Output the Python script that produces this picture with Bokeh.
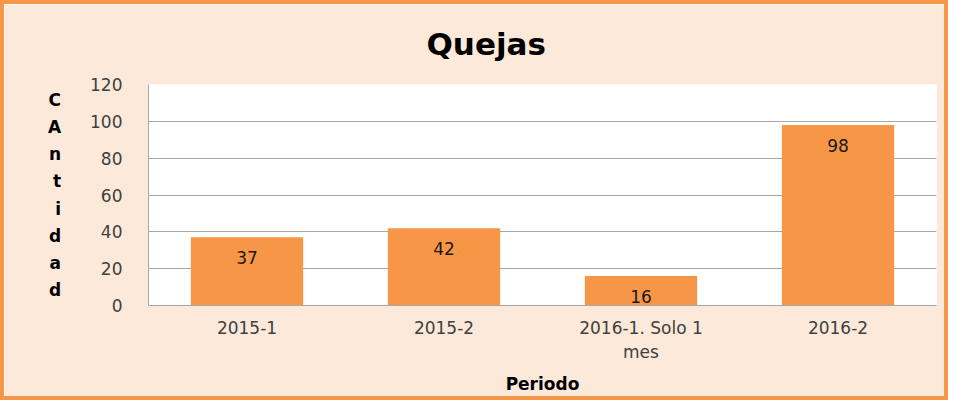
from bokeh.plotting import figure
from bokeh.models import ColumnDataSource, LabelSet, FactorRange
from bokeh.core.properties import value
from bokeh.embed import file_html
from bokeh.resources import INLINE

# ---- data ----
categories = ["2015-1", "2015-2", "2016-1. Solo 1\nmes", "2016-2"]
quejas = [37, 42, 16, 98]
y_ticks = [0, 20, 40, 60, 80, 100, 120]
title_text = "Quejas"
y_label = "CAntidad"
x_label = "Periodo"

FONT = "DejaVu Sans"
ORANGE = "#F79646"
PEACH = "#FDE9D9"
GRID = "#A6A6A6"

src = ColumnDataSource(dict(cat=categories, val=quejas, lbl=[str(v) for v in quejas]))

BORDER = 4
W, H = 948 - 2 * BORDER, 400 - 2 * BORDER
ML, MR, MT, MB = 144, 16, 79, 99

p = figure(x_range=FactorRange(*categories), y_range=(0, 120), width=W, height=H,
           output_backend="svg", toolbar_location=None,
           min_border_left=ML, min_border_right=MR, min_border_top=MT, min_border_bottom=MB)
p.background_fill_color = "white"
p.border_fill_color = PEACH
p.outline_line_color = None
p.styles = {"border": f"{BORDER}px solid {ORANGE}", "box-sizing": "content-box"}

p.vbar(x="cat", top="val", width=0.57, source=src, fill_color=ORANGE, line_color=None)

# title
p.title.text = title_text
p.title.align = "left"
p.title.offset = 278
p.title.standoff = 42
p.title.vertical_align = "top"
p.title.text_font = FONT
p.title.text_font_size = "31px"
p.title.text_font_style = "bold"
p.title.text_color = "black"

# y axis
p.yaxis.ticker = y_ticks
p.yaxis.major_tick_line_color = None
p.yaxis.minor_tick_line_color = None
p.yaxis.axis_line_color = GRID
p.yaxis.major_label_standoff = 20
p.yaxis.major_label_text_font = FONT
p.yaxis.major_label_text_font_size = "17px"
p.yaxis.major_label_text_color = "#404040"
p.yaxis.axis_label = "\n".join(y_label)
p.yaxis.axis_label_text_font = FONT
p.yaxis.axis_label_text_font_size = "17px"
p.yaxis.axis_label_text_font_style = "bold"
p.yaxis.axis_label_text_color = "black"
p.yaxis.axis_label_text_line_height = 1.36
p.yaxis.axis_label_standoff = 26
p.yaxis.axis_label_orientation = "horizontal"

# x axis
p.xaxis.major_tick_line_color = None
p.xaxis.axis_line_color = GRID
p.xaxis.major_label_standoff = 6
p.xaxis.major_label_text_font = FONT
p.xaxis.major_label_text_font_size = "17px"
p.xaxis.major_label_text_color = "#404040"
p.xaxis.major_label_text_line_height = 1.2
p.xaxis.axis_label = x_label
p.xaxis.axis_label_text_font = FONT
p.xaxis.axis_label_text_font_size = "17px"
p.xaxis.axis_label_text_font_style = "bold"
p.xaxis.axis_label_text_color = "black"
p.xaxis.axis_label_standoff = 9

p.xgrid.grid_line_color = None
p.ygrid.ticker = y_ticks
p.ygrid.grid_line_color = GRID

# data labels
p.add_layout(LabelSet(x="cat", y="val", text="lbl", source=src, y_offset=-20,
                      text_align="center", text_baseline="middle",
                      text_font=value(FONT), text_font_size=value("17px"),
                      text_color=value("#1a1a1a")))

open("out.html", "w").write(file_html(p, INLINE))
